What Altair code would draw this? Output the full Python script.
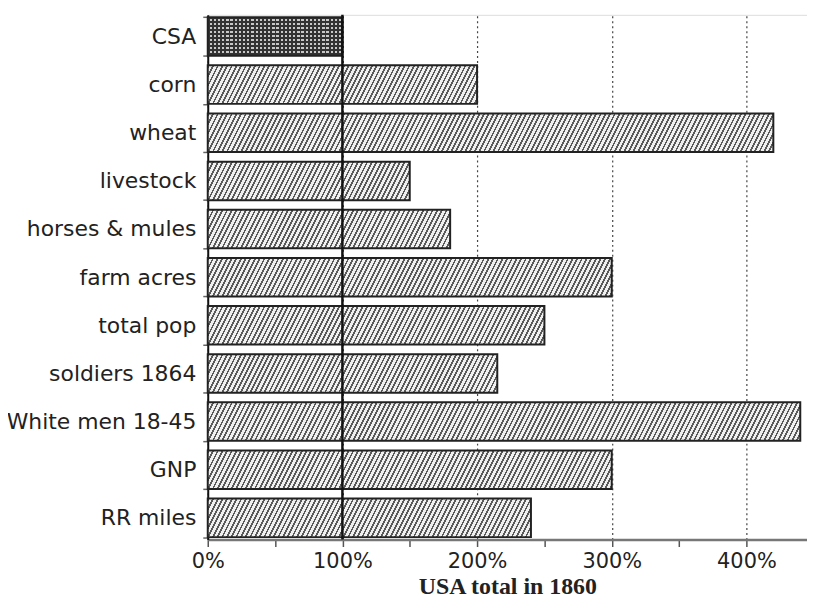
import altair as alt
import pandas as pd

# ---- data ----
categories = ["CSA", "corn", "wheat", "livestock", "horses & mules", "farm acres",
              "total pop", "soldiers 1864", "White men 18-45", "GNP", "RR miles"]
values = [100, 200, 420, 150, 180, 300, 250, 215, 440, 300, 240]
x_tick_values = [0, 50, 100, 150, 200, 250, 300, 350, 400]
baseline = [100]
axis_title = "USA total in 1860"

df = pd.DataFrame({"cat": categories, "value": values})
base_df = pd.DataFrame({"x": baseline})

# ---- layout constants ----
PLOT_W, PLOT_H, X_MAX = 603, 528, 445
PAD_IN, PAD_OUT = 0.2, 0.05
step = PLOT_H / (len(categories) - PAD_IN + 2 * PAD_OUT)
bar_h = step * (1 - PAD_IN)
px_per_unit = PLOT_W / X_MAX

DARK = "#5a5a5a"
LIGHT = "#f0f0f0"


def stripe_stops(dt, duty, dark, light):
    stops = []
    k = 0
    while k * dt < 1:
        t0 = k * dt
        t1 = min(t0 + duty * dt, 1.0)
        t2 = min(t0 + dt, 1.0)
        stops += [
            {"offset": round(t0, 5), "color": dark},
            {"offset": round(t1, 5), "color": dark},
            {"offset": round(t1, 5), "color": light},
            {"offset": round(t2, 5), "color": light},
        ]
        k += 1
    return stops


def diag_gradient(w, h, slope=2.0, period=4.7, duty=0.4):
    u = slope * w + h
    c0 = u / (slope ** 2 * w ** 2 + h ** 2)
    dt = slope * period / u
    return {
        "gradient": "linear",
        "x1": 0, "y1": 0,
        "x2": slope * w * c0, "y2": h * c0,
        "stops": stripe_stops(dt, duty, DARK, LIGHT),
    }


def lines_gradient(length, horizontal, period, duty, dark, light):
    return {"gradient": "linear", "x1": 0, "y1": 0,
            "x2": 1 if horizontal else 0, "y2": 0 if horizontal else 1,
            "stops": stripe_stops(period / length, duty, dark, light)}


x_enc = alt.X(
    "value:Q",
    scale=alt.Scale(domain=[0, X_MAX], nice=False, zero=True),
    axis=alt.Axis(
        values=x_tick_values,
        labelExpr="datum.value % 100 === 0 ? datum.value + '%' : ''",
        labelFlush=False,
        title=axis_title,
        grid=True,
        gridDash=[2, 3],
        gridColor="#444",
        gridWidth=1.2,
        gridOpacity={"expr": "datum.value % 100 === 0 ? 1 : 0"},
        tickSize=7,
        tickColor="#555",
        tickWidth=1.5,
        domainColor="#777",
        domainWidth=2.5,
        labelFont="DejaVu Sans",
        labelFontSize=21,
        labelColor="#222",
        labelPadding=4,
        titleFont="Liberation Serif",
        titleFontSize=24,
        titleFontWeight="bold",
        titleColor="#222",
        titlePadding=3,
    ),
)
y_enc = alt.Y(
    "cat:N",
    sort=categories,
    scale=alt.Scale(domain=categories, paddingInner=PAD_IN, paddingOuter=PAD_OUT),
    axis=alt.Axis(
        title="",
        tickBand="extent",
        tickSize=5,
        tickColor="#666",
        tickWidth=1.5,
        domainColor="#111",
        domainWidth=2,
        labelFont="DejaVu Sans",
        labelFontSize=22,
        labelColor="#222",
        labelPadding=7,
        labelLimit=400,
        grid=False,
    ),
)

layers = []
for cat, val in zip(categories, values):
    w = val * px_per_unit
    src = alt.Chart(df).transform_filter(alt.datum.cat == cat)
    if cat == "CSA":
        layers.append(
            src.mark_bar(fill=lines_gradient(bar_h, False, 4.0, 0.45, "#333333", "#c8c8c8"))
            .encode(x=x_enc, y=y_enc)
        )
        layers.append(
            src.mark_bar(fill=lines_gradient(w, True, 4.2, 0.45, "#333333", "rgba(0,0,0,0)"),
                         stroke="#222", strokeWidth=2)
            .encode(x=x_enc, y=y_enc)
        )
    else:
        layers.append(
            src.mark_bar(fill=diag_gradient(w, bar_h), stroke="#222", strokeWidth=2)
            .encode(x=x_enc, y=y_enc)
        )

rule = alt.Chart(base_df).mark_rule(color="#111", strokeWidth=2.5).encode(x=alt.X("x:Q"))
layers.append(rule)

chart = alt.layer(*layers).properties(
    width=PLOT_W,
    height=PLOT_H,
    autosize=alt.AutoSizeParams(type="none"),
    padding={"left": 201, "top": 5, "right": 0, "bottom": 62},
).configure_view(stroke="#999", strokeWidth=1.5).configure(background="white")

chart.save("out.html", embed_options={"renderer": "svg", "actions": False})
